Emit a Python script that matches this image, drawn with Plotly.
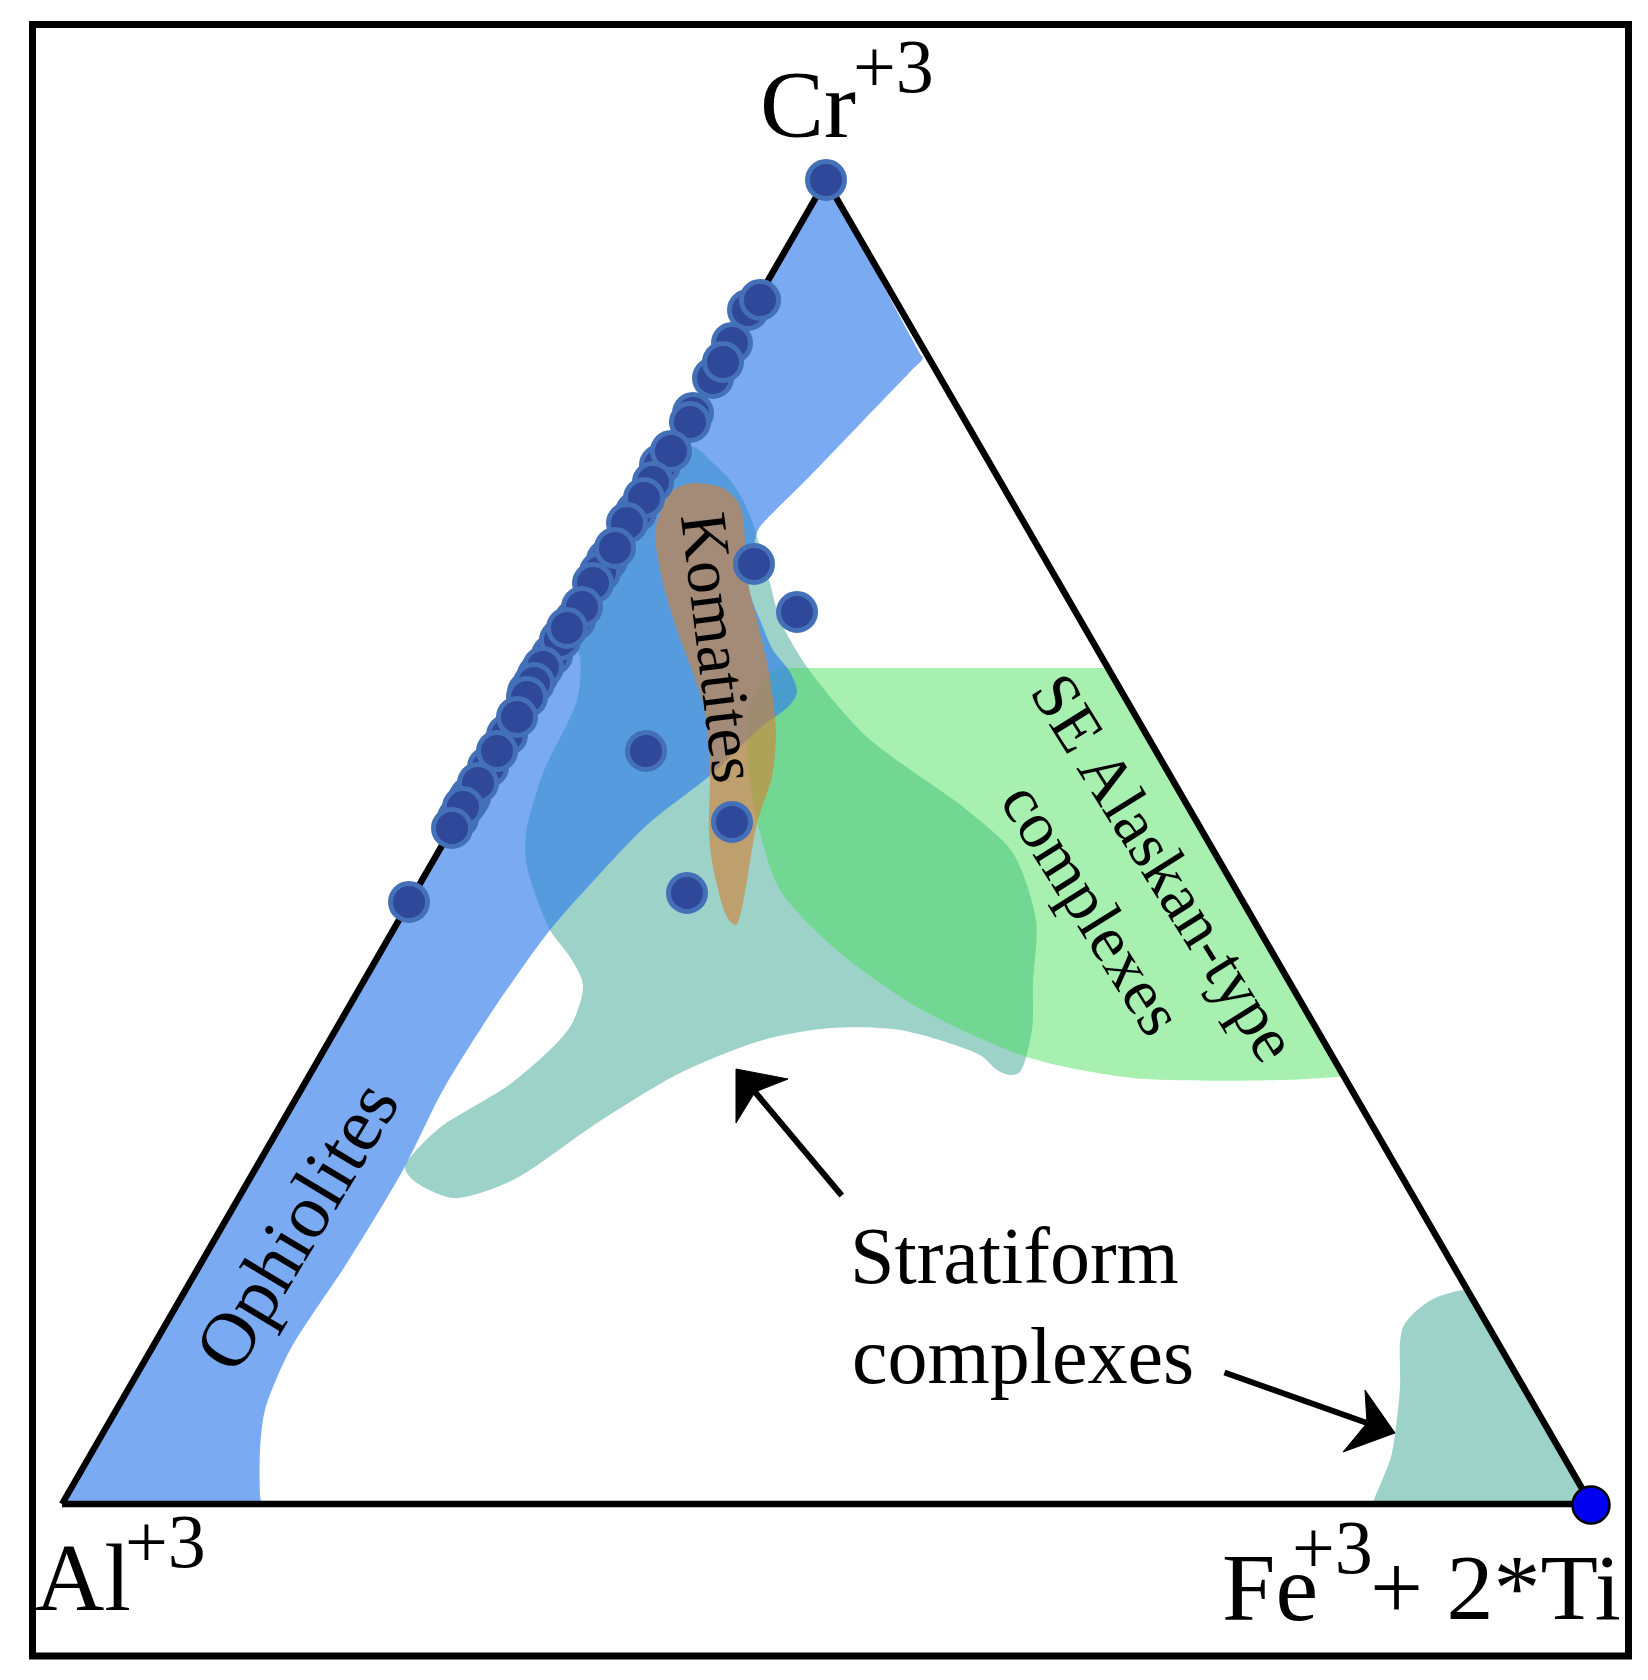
import plotly.graph_objects as go

FONT = "Liberation Serif"

triangle_x = [62, 826, 1591, 62]
triangle_y = [1504, 180, 1504, 1504]

ophiolite_x = [62, 66, 822, 826, 830, 921, 923, 910, 860, 810, 764, 758, 754, 748, 752, 760, 773, 790, 797, 790, 760, 713, 647,
               597, 550, 493, 443, 403, 347, 290, 265, 260, 260, 261, 256, 70]
ophiolite_y = [1504, 1497, 187, 180, 187, 355, 358, 372, 424, 476, 522, 530, 545, 580, 600, 620, 650, 672, 692, 705, 728, 773, 825,
               877, 930, 1010, 1090, 1170, 1263, 1350, 1410, 1450, 1495, 1504, 1504, 1504]

stratiform_x = [693, 713, 730, 743, 753, 757, 770, 780, 807, 867, 967, 1013, 1036, 1033, 1032,
                1020, 1010, 997, 980, 900, 830, 763, 680, 597, 513, 453, 413, 405,
                437, 513, 570, 583, 570, 550, 527, 526, 543, 577, 580, 572, 600, 660]
stratiform_y = [447, 463, 480, 500, 523, 537, 583, 620, 667, 737, 810, 853, 920, 983, 1030,
                1072, 1075, 1070, 1055, 1030, 1028, 1040, 1073, 1123, 1180, 1198, 1180, 1167,
                1130, 1082, 1027, 985, 957, 930, 867, 833, 773, 700, 657, 640, 590, 490]

stratiform_corner_x = [1465, 1435, 1415, 1403, 1400, 1400, 1396, 1391, 1381, 1375, 1373, 1380, 1585, 1591, 1587, 1469]
stratiform_corner_y = [1290, 1298, 1312, 1327, 1343, 1387, 1427, 1457, 1483, 1497, 1504, 1504, 1504, 1504, 1496, 1293]

alaskan_x = [783, 790, 1100, 1108, 1111, 1340, 1344, 1335, 1283, 1133, 1027, 917, 833, 780, 760, 750, 747, 748, 757, 770]
alaskan_y = [668, 668, 668, 668, 673, 1070, 1076, 1077, 1080, 1078, 1057, 1007, 947, 890, 833, 783, 743, 712, 690, 673]

komatiite_x = [698, 723, 738, 743, 745, 748, 757, 768, 773, 776, 772, 757, 743, 736, 727, 713, 709, 710, 708, 705, 693,
               678, 663, 655, 660, 670, 683]
komatiite_y = [483, 488, 502, 517, 540, 583, 620, 667, 700, 733, 777, 823, 903, 925, 917, 867, 833, 777, 740, 710, 673,
               633, 583, 533, 513, 493, 485]

sample_x = [660, 636, 607, 600, 575, 552, 538, 528, 507, 488, 470, 458,
            826, 748, 760, 732, 713, 723, 693, 690, 671, 653, 644, 627, 615, 593, 582, 560, 567, 543, 534, 527, 517, 497, 467,
            478, 463, 452, 409, 754, 797, 646, 732, 687]
sample_y = [465, 512, 560, 572, 620, 655, 675, 692, 735, 767, 797, 818,
            180, 310, 300, 343, 378, 362, 413, 422, 451, 482, 498, 523, 548, 583, 607, 640, 628, 667, 683, 697, 717, 751, 802,
            783, 807, 828, 902, 564, 612, 751, 822, 893]

endmember_x = [1591]
endmember_y = [1505]

labels = [
    ("Cr", 808, 104, 96, 0),
    ("+3", 893, 66, 76, 0),
    ("Al", 83, 1577, 96, 0),
    ("+3", 165, 1541, 76, 0),
    ("Fe", 1270, 1587, 96, 0),
    ("+3", 1332, 1547, 76, 0),
    ("+ 2*Ti", 1495, 1587, 94, 0),
    ("Stratiform", 1014, 1256, 80, 0),
    ("complexes", 1023, 1356, 80, 0),
    ("Ophiolites", 296, 1226, 77, -59),
    ("Komatites", 720, 647, 66, 83),
    ("SE Alaskan-type", 1165, 867, 66, 58),
    ("complexes", 1093, 908, 66, 58),
]

arrow_tail_x = [843, 1223]
arrow_tail_y = [1197, 1372]
arrow_notch_x = [755, 1367]
arrow_notch_y = [1092, 1423]
head_paths = [
    "M 736 1069 L 788 1079 L 755 1092 L 736 1123 Z",
    "M 1395 1433 L 1365 1390 L 1367 1423 L 1343 1452 Z",
]

fig = go.Figure()


def region(x, y, color, name):
    fig.add_trace(go.Scatter(x=x + x[:1], y=y + y[:1], mode="lines", fill="toself", fillcolor=color,
                             line=dict(width=0, shape="spline", smoothing=0.8), name=name, hoverinfo="name"))


region(stratiform_x, stratiform_y, "rgb(156,210,200)", "Stratiform complexes")
region(stratiform_corner_x, stratiform_corner_y, "rgb(156,210,200)", "Stratiform complexes")
region(alaskan_x, alaskan_y, "rgba(62,222,80,0.45)", "SE Alaskan-type complexes")
region(ophiolite_x, ophiolite_y, "rgba(50,126,235,0.65)", "Ophiolites")
region(komatiite_x, komatiite_y, "rgba(211,129,55,0.62)", "Komatites")

fig.add_trace(go.Scatter(x=triangle_x, y=triangle_y, mode="lines", line=dict(color="black", width=6.5), hoverinfo="skip"))
fig.add_trace(go.Scatter(x=sample_x, y=sample_y, mode="markers", cliponaxis=False,
                         marker=dict(size=37, color="#2F4899", line=dict(color="#4470B8", width=5))))
fig.add_trace(go.Scatter(x=endmember_x, y=endmember_y, mode="markers", cliponaxis=False,
                         marker=dict(size=37, color="#0000F0", line=dict(color="black", width=2.5))))

annotations = [
    dict(text=t, x=x, y=y, xref="x", yref="y", showarrow=False, xanchor="center", yanchor="middle", textangle=a,
         font=dict(family=FONT, size=s, color="black"))
    for t, x, y, s, a in labels
]
for nx, ny, ax, ay in zip(arrow_notch_x, arrow_notch_y, arrow_tail_x, arrow_tail_y):
    annotations.append(dict(text="", x=nx, y=ny, ax=ax, ay=ay, xref="x", yref="y", axref="x", ayref="y",
                            showarrow=True, arrowhead=0, arrowwidth=6, arrowcolor="black"))

shapes = [dict(type="rect", xref="x", yref="y", x0=32.5, x1=1628.5, y0=24.5, y1=1656,
               line=dict(color="black", width=7), fillcolor="rgba(0,0,0,0)", layer="below")]
shapes += [dict(type="path", path=p, xref="x", yref="y", fillcolor="black", line=dict(color="black", width=1))
           for p in head_paths]

fig.update_layout(
    width=1648, height=1680, autosize=False, showlegend=False,
    margin=dict(l=0, r=0, t=0, b=0),
    paper_bgcolor="white", plot_bgcolor="white",
    xaxis=dict(range=[0, 1648], visible=False, fixedrange=True),
    yaxis=dict(range=[1680, 0], visible=False, fixedrange=True),
    annotations=annotations,
    shapes=shapes,
)

fig.write_html("out.html", config={"displayModeBar": False}, post_script="document.body.style.margin='0';")
